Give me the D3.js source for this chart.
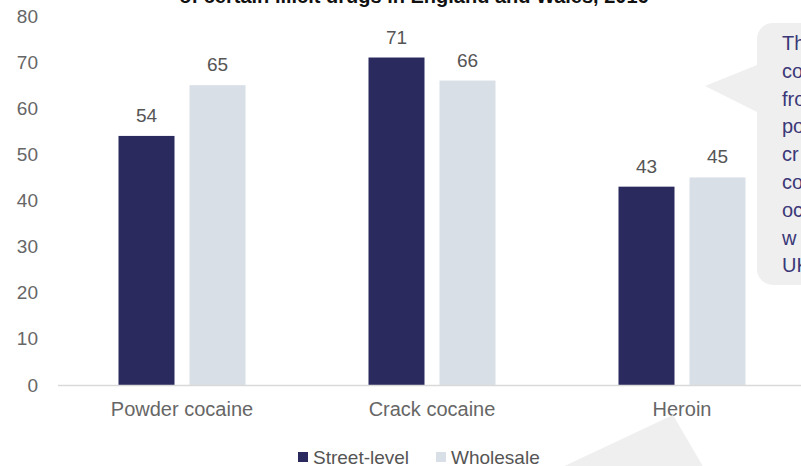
<!DOCTYPE html>
<html><head><meta charset="utf-8">
<script src="https://cdn.jsdelivr.net/npm/d3@7"></script>
<style>
html,body{margin:0;padding:0;background:#fff;overflow:hidden}
svg{display:block}
text{font-family:"Liberation Sans",Arial,sans-serif}
</style></head>
<body><svg id="c" width="801" height="466"></svg>
<script>
const categories = ["Powder cocaine", "Crack cocaine", "Heroin"];
const seriesNames = ["Street-level", "Wholesale"];
const streetLevel = [54, 71, 43];
const wholesale = [65, 66, 45];
const yTicks = [0, 10, 20, 30, 40, 50, 60, 70, 80];
const titleText = "of certain illicit drugs in England and Wales, 2016";
const calloutLines = ["Th", "co", "fro", "po", "cr", "co", "oc", "w", "UK"];

const colors = {"Street-level": "#2b2a5e", "Wholesale": "#d8dfe6"};
const svg = d3.select("#c");

const x = d3.scaleBand().domain(categories).range([57, 807]).padding(0);
const y = d3.scaleLinear().domain([0, 80]).range([385, 16]);
const barW = 56, gap = 15;

// title (clipped at top)
svg.append("text").attr("x", 414).attr("y", 3).attr("text-anchor", "middle")
  .attr("font-weight", "bold").attr("font-size", 20).attr("fill", "#111").text(titleText);

// callout bubble
svg.append("path").attr("fill", "#efefef")
  .attr("d", "M757,65 L705,86 L757,112 Z");
svg.append("rect").attr("x", 757).attr("y", 23).attr("width", 80).attr("height", 262)
  .attr("rx", 16).attr("fill", "#efefef");
svg.append("g").selectAll("text").data(calloutLines).join("text")
  .attr("x", 782).attr("y", (d, i) => 50 + i * 27.8)
  .attr("font-size", 20).attr("fill", "#3a3878").text(d => d);

// y axis labels
const yAxis = d3.axisLeft(y).tickValues(yTicks).tickSize(0).tickPadding(0);
const gy = svg.append("g").attr("transform", "translate(38,0)").call(yAxis);
gy.select(".domain").remove();
gy.selectAll("text").attr("font-size", 19).attr("fill", "#666")
  .style("font-family", '"Liberation Sans",Arial,sans-serif');

// bars
const data = categories.map((c, i) => ({c, vals: [
  {s: "Street-level", v: streetLevel[i]}, {s: "Wholesale", v: wholesale[i]}]}));
const g = svg.append("g");
data.forEach(d => {
  const cx = x(d.c) + x.bandwidth() / 2;
  d.vals.forEach((p, j) => {
    const bx = j === 0 ? cx - gap / 2 - barW : cx + gap / 2;
    g.append("rect").attr("x", bx).attr("y", y(p.v)).attr("width", barW)
      .attr("height", y(0) - y(p.v)).attr("fill", colors[p.s]);
    g.append("text").attr("x", bx + barW / 2).attr("y", y(p.v) - 14)
      .attr("text-anchor", "middle").attr("font-size", 19).attr("fill", "#555").text(p.v);
  });
});

// x axis
const xAxis = d3.axisBottom(x).tickSize(0).tickPadding(0);
const gx = svg.append("g").attr("transform", "translate(0,385)").call(xAxis);
gx.select(".domain").attr("stroke", "#d9d9d9").attr("stroke-width", 1.5).attr("d", "M58,0.5H801");
gx.selectAll("text").attr("font-size", 20).attr("fill", "#666").attr("dy", "1.55em")
  .style("font-family", '"Liberation Sans",Arial,sans-serif');

// bottom triangle
svg.append("path").attr("fill", "#efefef").attr("d", "M673,415 L556,470 L705,470 Z");

// legend
const legend = svg.append("g");
const legendX = [298, 436];
seriesNames.forEach((s, i) => {
  legend.append("rect").attr("x", legendX[i]).attr("y", 452).attr("width", 10).attr("height", 10)
    .attr("fill", colors[s]);
  legend.append("text").attr("x", legendX[i] + 15).attr("y", 464)
    .attr("font-size", 19).attr("fill", "#555").text(s);
});
</script></body></html>
